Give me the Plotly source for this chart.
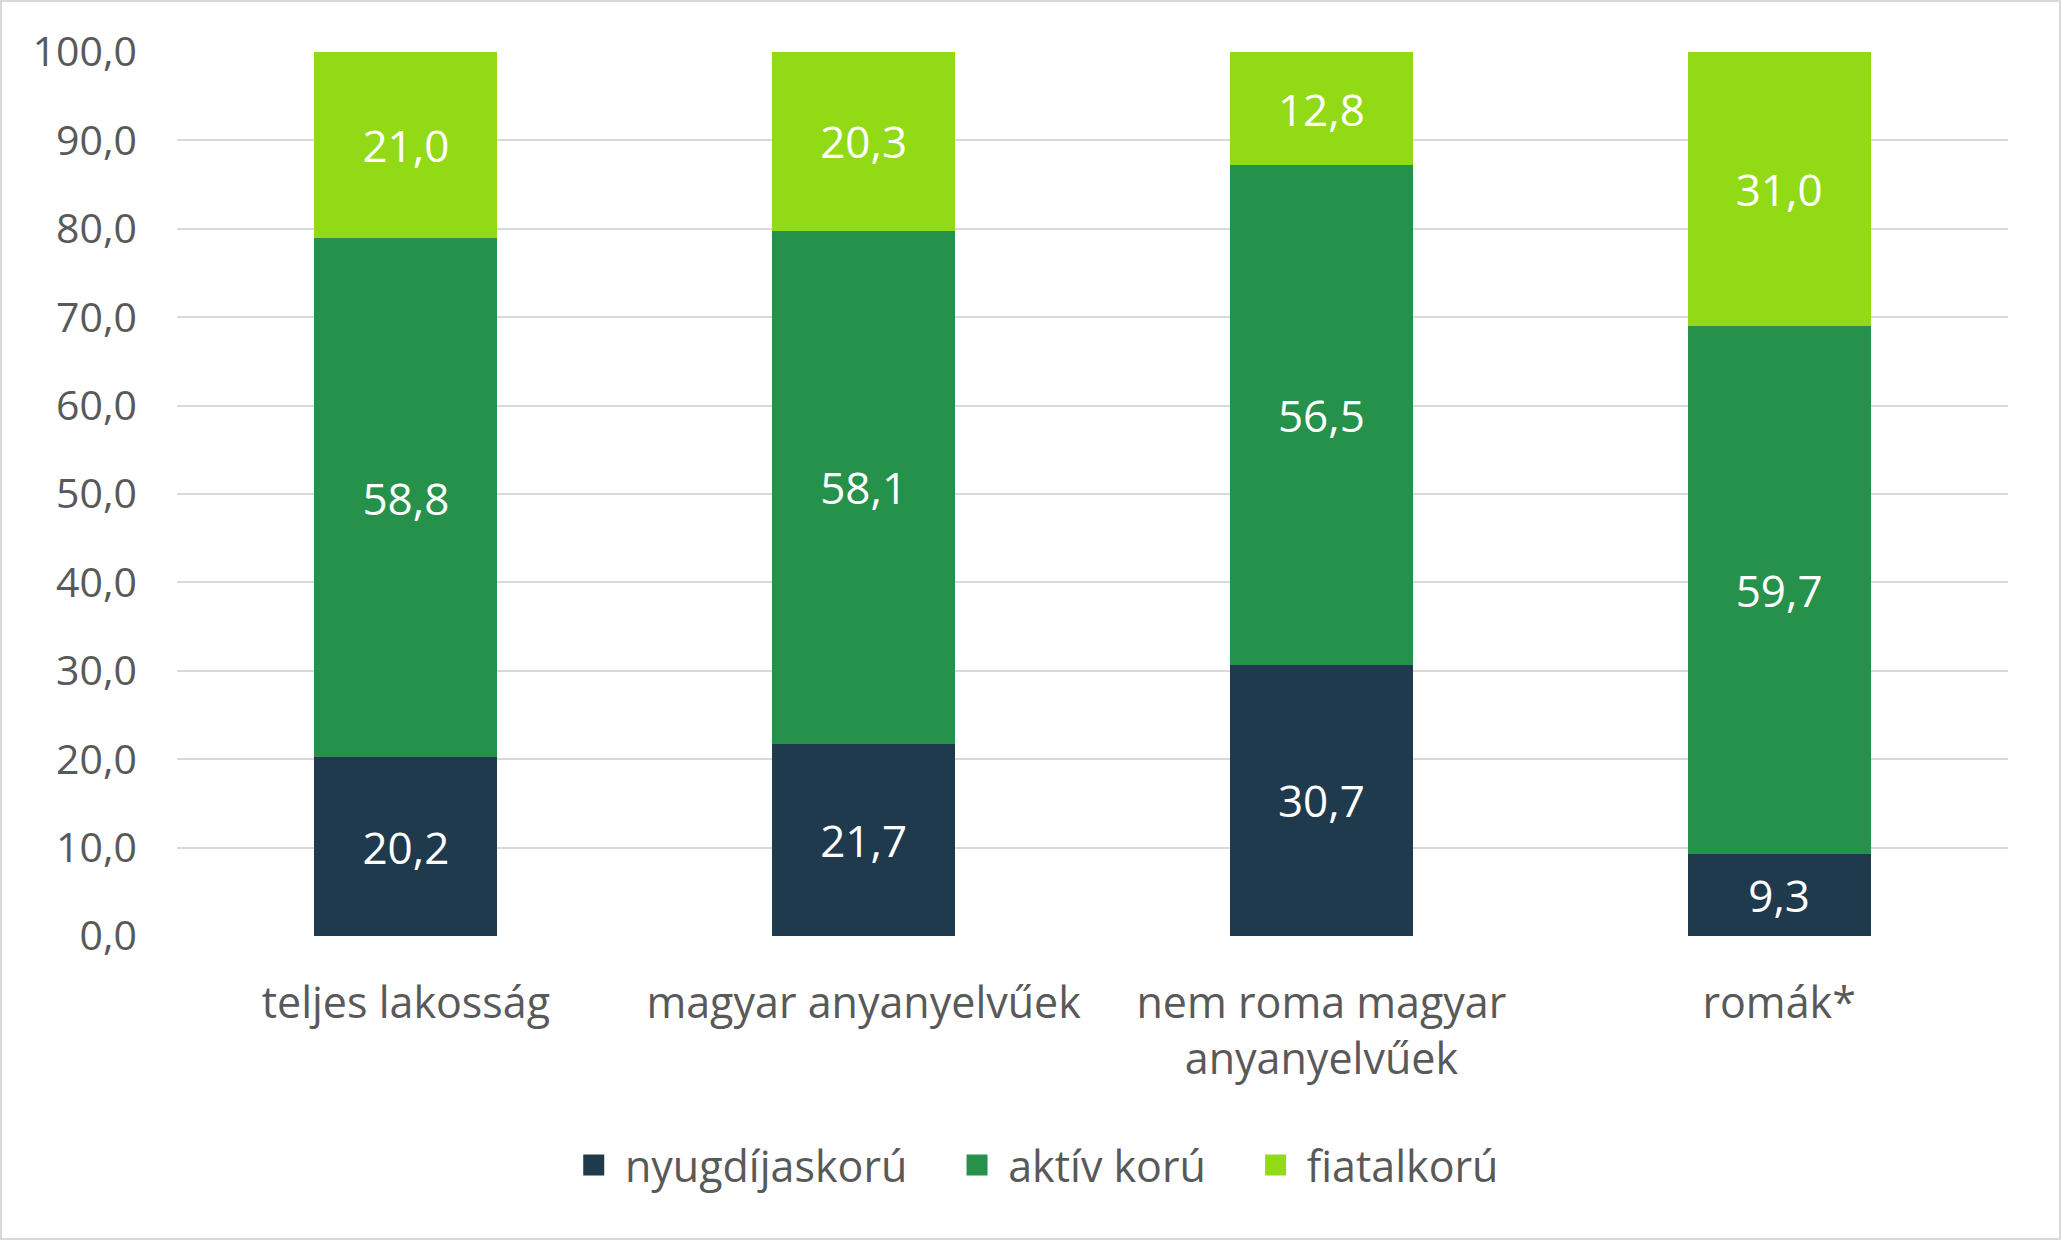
import plotly.graph_objects as go

categories = ["teljes lakosság", "magyar anyanyelvűek", "nem roma magyar<br>anyanyelvűek", "romák*"]
nyugdijaskoru = [20.2, 21.7, 30.7, 9.3]
aktiv_koru = [58.8, 58.1, 56.5, 59.7]
fiatalkoru = [21.0, 20.3, 12.8, 31.0]
series_names = ["nyugdíjaskorú", "aktív korú", "fiatalkorú"]
colors = ["#1F3A4D", "#26914A", "#93DA16"]

W, H = 2061, 1240
ml, mr, mt, mb = 177, 53, 52, 304
FONT = "Open Sans, sans-serif"
GREY = "#595959"

fig = go.Figure()
for name, vals, c in zip(series_names, [nyugdijaskoru, aktiv_koru, fiatalkoru], colors):
    fig.add_trace(go.Bar(
        x=categories, y=vals, name=name, marker=dict(color=c, line=dict(width=0)),
        text=[f"{v:.1f}".replace(".", ",") for v in vals],
        textposition="inside", insidetextanchor="middle",
        textfont=dict(color="white", size=44, family=FONT),
        constraintext="none", hoverinfo="skip", showlegend=False,
    ))
# legend entries
pad = "\u00a0" * 4
for i, (name, c) in enumerate(zip(series_names, colors)):
    label = "\u00a0" + name + (pad if i < len(series_names) - 1 else "")
    fig.add_trace(go.Scatter(
        x=[categories[0]], y=[None], mode="markers", name=label,
        marker=dict(symbol="square", size=16, color=c, line=dict(color=c, width=5)),
        hoverinfo="skip",
    ))

pw = W - ml - mr
ph = H - mt - mb
fig.update_layout(
    width=W, height=H, barmode="stack", bargap=0.6,
    margin=dict(l=ml, r=mr, t=mt, b=mb),
    paper_bgcolor="white", plot_bgcolor="white",
    separators=", ",
    font=dict(family=FONT, size=43, color=GREY),
    legend=dict(orientation="h", xref="container", yref="container",
                x=0.504, xanchor="center", y=0.0605, yanchor="middle",
                font=dict(size=43, color=GREY), traceorder="normal",
                itemsizing="trace"),
    shapes=[dict(type="rect", xref="paper", yref="paper",
                 x0=-(ml - 1) / pw, x1=1 + (mr - 1) / pw,
                 y0=-(mb - 1) / ph, y1=1 + (mt - 1) / ph,
                 line=dict(color="#D9D9D9", width=2), layer="below")],
)
fig.update_yaxes(range=[0, 100], dtick=10, tickformat=".1f",
                 showgrid=True, gridcolor="#D9D9D9", gridwidth=2,
                 zeroline=False, showline=False, ticklabelstandoff=39,
                 tickfont=dict(size=41, color=GREY))
fig.update_xaxes(showgrid=False, showline=False, zeroline=False,
                 ticklabelstandoff=38,
                 tickfont=dict(size=43, color=GREY))

fig.write_html("out.html", config={"displayModeBar": False},
               post_script="document.body.style.margin='0';")
